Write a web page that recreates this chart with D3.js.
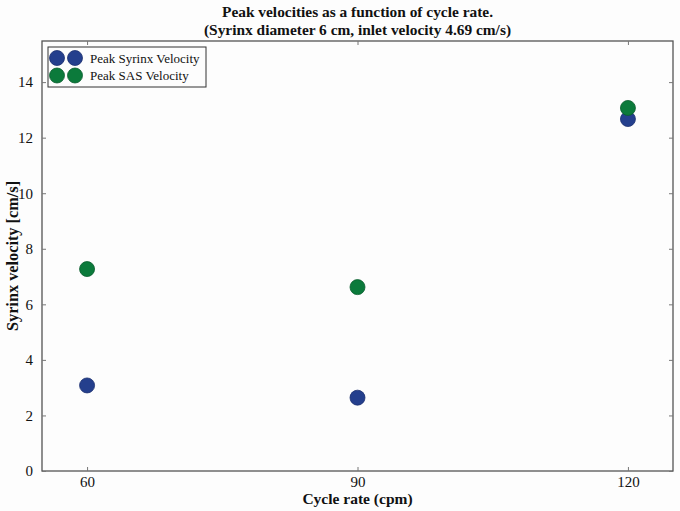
<!DOCTYPE html>
<html lang="en">
<head>
<meta charset="utf-8">
<script src="https://d3js.org/d3.v7.min.js"></script>
<style>
    body { margin: 0; background: #fdfdfd; }
</style>
</head>
<body>
<script>
    // data
    var cycleRates = [60, 90, 120];
    var syrinxVelocity = [3.08, 2.64, 12.67];
    var sasVelocity = [7.27, 6.62, 13.07];
    var yTicks = [0, 2, 4, 6, 8, 10, 12, 14];
    var seriesNames = ["Peak Syrinx Velocity", "Peak SAS Velocity"];
    var seriesColors = ["#243f8d", "#0b7a3b"];
    var seriesEdges = ["#1a2f6e", "#085c2c"];

    var serif = "'Liberation Serif', 'DejaVu Serif', serif";

    var margin = {top: 41, right: 7, bottom: 40, left: 42},
        width = 680 - margin.left - margin.right,
        height = 511 - margin.top - margin.bottom;

    var svg = d3.select("body").append("svg")
        .attr("width", 680)
        .attr("height", 511)
        .style("font-family", serif);

    var g = svg.append("g")
        .attr("transform", "translate(" + margin.left + "," + margin.top + ")");

    var x = d3.scaleLinear().domain([55, 125]).range([0, width]);
    var y = d3.scaleLinear().domain([0, 15.48]).range([height, 0]);

    // plot frame
    g.append("rect")
        .attr("width", width).attr("height", height)
        .attr("fill", "none").attr("stroke", "#555").attr("stroke-width", 1.3);

    // axes with inward ticks on all four sides
    function styleAxis(sel) {
        sel.attr("font-family", null);
        sel.select(".domain").remove();
        sel.selectAll("line").attr("stroke", "#777");
        sel.selectAll("text")
            .style("font-family", serif)
            .style("font-size", "15px")
            .attr("fill", "#111");
    }
    g.append("g").attr("transform", "translate(0," + height + ")")
        .call(d3.axisBottom(x).tickValues(cycleRates).tickSizeInner(-4).tickPadding(5).tickSizeOuter(0))
        .call(styleAxis);
    g.append("g")
        .call(d3.axisTop(x).tickValues(cycleRates).tickSizeInner(-4).tickSizeOuter(0).tickFormat(""))
        .call(styleAxis);
    g.append("g")
        .call(d3.axisLeft(y).tickValues(yTicks).tickSizeInner(-4).tickPadding(9).tickSizeOuter(0))
        .call(styleAxis);
    g.append("g").attr("transform", "translate(" + width + ",0)")
        .call(d3.axisRight(y).tickValues(yTicks).tickSizeInner(-4).tickSizeOuter(0).tickFormat(""))
        .call(styleAxis);

    // points
    var series = [syrinxVelocity, sasVelocity];
    series.forEach(function(vals, i) {
        g.append("g").selectAll("circle")
            .data(vals)
            .enter()
            .append("circle")
            .attr("cx", function(d, j) { return x(cycleRates[j]); })
            .attr("cy", function(d) { return y(d); })
            .attr("r", 7.5)
            .attr("fill", seriesColors[i])
            .attr("stroke", seriesEdges[i])
            .attr("stroke-width", 0.8);
    });

    // legend
    var legend = g.append("g").attr("transform", "translate(6,6)");
    legend.append("rect")
        .attr("width", 158).attr("height", 40)
        .attr("fill", "#fdfdfd").attr("stroke", "#333").attr("stroke-width", 1);
    seriesNames.forEach(function(name, i) {
        var row = legend.append("g").attr("transform", "translate(0," + (11 + i * 17.5) + ")");
        [9, 27].forEach(function(cx) {
            row.append("circle")
                .attr("cx", cx).attr("cy", 0).attr("r", 7.5)
                .attr("fill", seriesColors[i])
                .attr("stroke", seriesEdges[i]).attr("stroke-width", 0.8);
        });
        row.append("text")
            .attr("x", 42).attr("y", 0).attr("dy", "0.35em")
            .style("font-family", serif)
            .style("font-size", "13px")
            .attr("fill", "#111")
            .text(name);
    });

    // titles
    function label(txt, xPos, yPos, size) {
        return svg.append("text")
            .attr("x", xPos).attr("y", yPos)
            .attr("text-anchor", "middle")
            .attr("fill", "#111")
            .style("font-family", serif)
            .style("font-size", size)
            .style("font-weight", "bold")
            .text(txt);
    }
    label("Peak velocities as a function of cycle rate.", margin.left + width / 2, 17, "15.4px");
    label("(Syrinx diameter 6 cm, inlet velocity 4.69 cm/s)", margin.left + width / 2, 35, "15.4px");
    label("Cycle rate (cpm)", margin.left + width / 2, 504, "15.5px");
    label("Syrinx velocity [cm/s]", 0, 0, "16.3px")
        .attr("transform", "translate(18," + (margin.top + height / 2) + ") rotate(-90)");
</script>
</body>
</html>
